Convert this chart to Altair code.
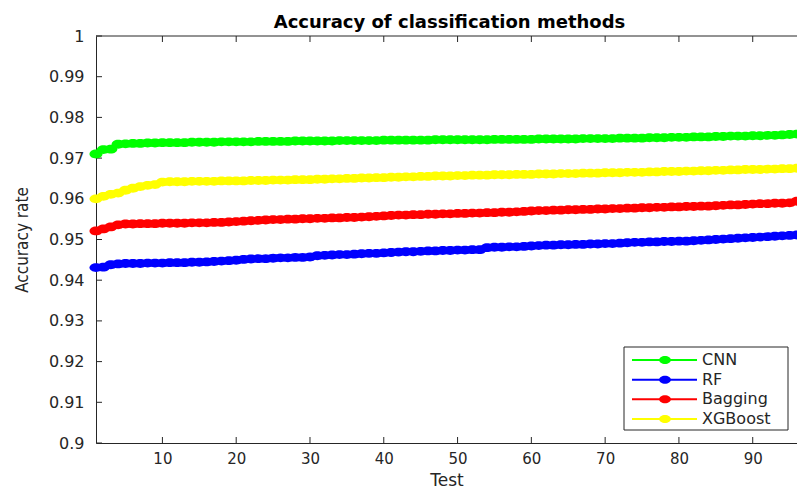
import altair as alt
import pandas as pd

tests = list(range(1, 97))
series_names = ["CNN", "RF", "Bagging", "XGBoost"]
series_colors = ["#00ff00", "#0000ff", "#ff0000", "#ffff00"]
chart_title = ["Accuracy of classification methods"]

cnn = [0.9710, 0.9721, 0.9722, 0.9734, 0.9735, 0.9736, 0.9736, 0.9737, 0.9737, 0.9738,
       0.9738, 0.9738, 0.9738, 0.9739, 0.9739, 0.9739, 0.9739, 0.9740, 0.9740, 0.9740,
       0.9740, 0.9740, 0.9741, 0.9741, 0.9741, 0.9741, 0.9741, 0.9742, 0.9742, 0.9742,
       0.9742, 0.9742, 0.9742, 0.9743, 0.9743, 0.9743, 0.9743, 0.9743, 0.9743, 0.9744,
       0.9744, 0.9744, 0.9744, 0.9744, 0.9744, 0.9744, 0.9745, 0.9745, 0.9745, 0.9745,
       0.9745, 0.9745, 0.9745, 0.9745, 0.9746, 0.9746, 0.9746, 0.9746, 0.9746, 0.9746,
       0.9747, 0.9747, 0.9747, 0.9747, 0.9747, 0.9747, 0.9748, 0.9748, 0.9748, 0.9748,
       0.9748, 0.9749, 0.9749, 0.9749, 0.9749, 0.9750, 0.9750, 0.9750, 0.9751, 0.9751,
       0.9751, 0.9752, 0.9752, 0.9752, 0.9753, 0.9753, 0.9754, 0.9754, 0.9754, 0.9755,
       0.9755, 0.9756, 0.9756, 0.9757, 0.9758, 0.9759]

rf = [0.9431, 0.9432, 0.9438, 0.9440, 0.9441, 0.9441, 0.9441, 0.9442, 0.9442, 0.9442,
      0.9443, 0.9443, 0.9443, 0.9444, 0.9444, 0.9445, 0.9446, 0.9447, 0.9448, 0.9449,
      0.9451, 0.9452, 0.9453, 0.9453, 0.9454, 0.9455, 0.9455, 0.9456, 0.9456, 0.9457,
      0.9460, 0.9461, 0.9462, 0.9463, 0.9463, 0.9464, 0.9465, 0.9466, 0.9466, 0.9467,
      0.9468, 0.9469, 0.9470, 0.9470, 0.9471, 0.9472, 0.9472, 0.9473, 0.9473, 0.9474,
      0.9474, 0.9475, 0.9475, 0.9480, 0.9481, 0.9481, 0.9482, 0.9482, 0.9483, 0.9484,
      0.9485, 0.9486, 0.9486, 0.9487, 0.9487, 0.9488, 0.9488, 0.9489, 0.9489, 0.9490,
      0.9490, 0.9491, 0.9492, 0.9493, 0.9493, 0.9494, 0.9494, 0.9495, 0.9495, 0.9496,
      0.9496, 0.9497, 0.9498, 0.9499, 0.9500, 0.9501, 0.9502, 0.9503, 0.9504, 0.9505,
      0.9506, 0.9507, 0.9508, 0.9509, 0.9510, 0.9511]

bagging = [0.9521, 0.9526, 0.9531, 0.9536, 0.9538, 0.9538, 0.9539, 0.9539, 0.9539, 0.9540,
           0.9540, 0.9540, 0.9540, 0.9541, 0.9541, 0.9541, 0.9542, 0.9542, 0.9543, 0.9544,
           0.9545, 0.9546, 0.9547, 0.9548, 0.9549, 0.9549, 0.9550, 0.9550, 0.9551, 0.9551,
           0.9552, 0.9552, 0.9553, 0.9553, 0.9554, 0.9554, 0.9555, 0.9556, 0.9557, 0.9558,
           0.9559, 0.9560, 0.9560, 0.9561, 0.9561, 0.9562, 0.9562, 0.9563, 0.9563, 0.9564,
           0.9564, 0.9565, 0.9565, 0.9566, 0.9566, 0.9567, 0.9567, 0.9568, 0.9569, 0.9570,
           0.9571, 0.9571, 0.9572, 0.9572, 0.9573, 0.9573, 0.9574, 0.9574, 0.9575, 0.9575,
           0.9576, 0.9576, 0.9577, 0.9577, 0.9578, 0.9578, 0.9579, 0.9579, 0.9580, 0.9580,
           0.9581, 0.9581, 0.9582, 0.9582, 0.9583, 0.9584, 0.9585, 0.9585, 0.9586, 0.9587,
           0.9588, 0.9588, 0.9589, 0.9589, 0.9590, 0.9594]

xgboost = [0.9600, 0.9606, 0.9611, 0.9614, 0.9621, 0.9626, 0.9630, 0.9633, 0.9635, 0.9641,
           0.9642, 0.9642, 0.9642, 0.9643, 0.9643, 0.9643, 0.9643, 0.9644, 0.9644, 0.9644,
           0.9644, 0.9645, 0.9645, 0.9645, 0.9646, 0.9646, 0.9646, 0.9647, 0.9647, 0.9647,
           0.9648, 0.9648, 0.9649, 0.9649, 0.9650, 0.9650, 0.9651, 0.9651, 0.9652, 0.9652,
           0.9653, 0.9653, 0.9654, 0.9654, 0.9655, 0.9655, 0.9656, 0.9656, 0.9656, 0.9657,
           0.9657, 0.9658, 0.9658, 0.9658, 0.9659, 0.9659, 0.9659, 0.9660, 0.9660, 0.9660,
           0.9661, 0.9661, 0.9661, 0.9662, 0.9662, 0.9662, 0.9663, 0.9663, 0.9663, 0.9664,
           0.9664, 0.9664, 0.9665, 0.9665, 0.9665, 0.9666, 0.9666, 0.9667, 0.9667, 0.9667,
           0.9668, 0.9668, 0.9669, 0.9669, 0.9670, 0.9670, 0.9671, 0.9671, 0.9672, 0.9672,
           0.9672, 0.9673, 0.9673, 0.9674, 0.9674, 0.9675]

x_ticks = [10, 20, 30, 40, 50, 60, 70, 80, 90]
y_ticks = [0.90, 0.91, 0.92, 0.93, 0.94, 0.95, 0.96, 0.97, 0.98, 0.99, 1.00]

rows = []
for name, vals in zip(series_names, [cnn, rf, bagging, xgboost]):
    for t, v in zip(tests, vals):
        rows.append({"test": t, "acc": v, "series": name})
df = pd.DataFrame(rows)
xt_df = pd.DataFrame({"test": x_ticks})
yt_df = pd.DataFrame({"acc": y_ticks})
one_df = pd.DataFrame({"k": [0]})
leg_df = pd.DataFrame({"series": series_names})
title_df = pd.DataFrame({"label": chart_title})

W, H = 701, 407
AXC = "#262626"
FONT = "DejaVu Sans"
NARROW = "DejaVu Sans Condensed, Liberation Sans, Arial, sans-serif"
ELLIPSE = "M-1,0A1,0.68,0,1,1,1,0A1,0.68,0,1,1,-1,0Z"

color = alt.Color("series:N", scale=alt.Scale(domain=series_names, range=series_colors), legend=None)
xs = alt.Scale(domain=[1, 96], nice=False, zero=False)
ys = alt.Scale(domain=[0.9, 1.0], nice=False, zero=False)

x_axis = alt.Axis(values=x_ticks, ticks=False, grid=False, labelPadding=8,
                  labelFont=FONT, labelFontSize=15, labelColor=AXC,
                  domainColor=AXC, domainWidth=1,
                  title="Test", titleFont=FONT, titleFontSize=17, titleFontWeight="normal",
                  titleColor=AXC, titleBaseline="alphabetic", titleY=42)
y_axis = alt.Axis(values=y_ticks, ticks=False, grid=False, labelPadding=12, format=".2~f",
                  labelFont=FONT, labelFontSize=16, labelColor=AXC, labelFlush=False,
                  labelOverlap=False, domainColor=AXC, domainWidth=1,
                  title="Accuracy rate", titleFont=NARROW, titleFontSize=17,
                  titleFontWeight="normal", titleColor=AXC, titleX=-74, titleY=H / 2,
                  titleAlign="center", titleBaseline="middle", titleAngle=270)

lines = alt.Chart(df).mark_line(strokeWidth=2).encode(
    x=alt.X("test:Q", scale=xs, axis=x_axis),
    y=alt.Y("acc:Q", scale=ys, axis=y_axis),
    color=color,
    detail="series:N",
)
points = alt.Chart(df).mark_point(shape=ELLIPSE, size=169, filled=True, opacity=1, strokeWidth=0).encode(
    x=alt.X("test:Q", scale=xs),
    y=alt.Y("acc:Q", scale=ys),
    color=color,
)
xt_bottom = alt.Chart(xt_df).mark_rule(color=AXC, strokeWidth=1).encode(
    x=alt.X("test:Q", scale=xs), y=alt.value(H), y2=alt.value(H - 6))
xt_top = alt.Chart(xt_df).mark_rule(color=AXC, strokeWidth=1).encode(
    x=alt.X("test:Q", scale=xs), y=alt.value(0), y2=alt.value(6))
yt_left = alt.Chart(yt_df).mark_rule(color=AXC, strokeWidth=1).encode(
    y=alt.Y("acc:Q", scale=ys), x=alt.value(0), x2=alt.value(6))
top_border = alt.Chart(one_df).mark_rule(color=AXC, strokeWidth=1).encode(
    x=alt.value(0), x2=alt.value(W), y=alt.value(0))

main = alt.layer(xt_bottom, xt_top, yt_left, top_border, lines, points)

ly = alt.Y("series:N", scale=alt.Scale(type="point", domain=series_names, range=[324, 383], padding=0), axis=None)
leg_box = alt.Chart(one_df).mark_rect(fill="white", stroke=AXC, strokeWidth=1).encode(
    x=alt.value(528), x2=alt.value(692), y=alt.value(311), y2=alt.value(394))
leg_line = alt.Chart(leg_df).mark_rule(strokeWidth=2).encode(
    x=alt.value(536), x2=alt.value(601), y=ly, color=color)
leg_pt = alt.Chart(leg_df).mark_point(shape=ELLIPSE, size=140, filled=True, opacity=1, strokeWidth=0).encode(
    x=alt.value(569), y=ly, color=color)
leg_txt = alt.Chart(leg_df).mark_text(align="left", baseline="middle", font=FONT, fontSize=16, color=AXC).encode(
    x=alt.value(606), y=ly, text="series:N")
title_txt = alt.Chart(title_df).mark_text(align="center", baseline="alphabetic", font=FONT, fontSize=18,
                                          fontWeight="bold", color="black").encode(
    x=alt.value(W / 2 + 3), y=alt.value(-8), text="label:N")
legend = alt.layer(leg_box, leg_line, leg_pt, leg_txt, title_txt)

chart = alt.layer(main, legend).resolve_scale(y="independent").properties(
    width=W, height=H,
    autosize="none",
    padding={"left": 96, "top": 36, "right": 0, "bottom": 45},
    background="white",
).configure_view(stroke=None)

chart.save("out.html", embed_options={"renderer": "svg", "actions": False})
